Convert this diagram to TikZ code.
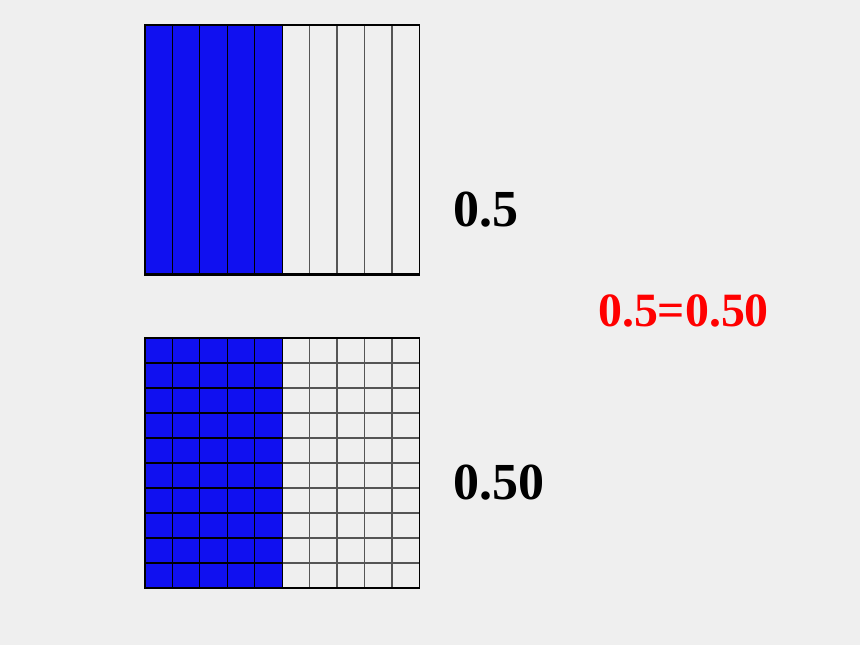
\documentclass[tikz,border=0pt]{standalone}
\usepackage{fontspec}
\setmainfont{Liberation Serif}
\definecolor{bg}{HTML}{EFEFEF}
\definecolor{cellblue}{HTML}{1010F0}
\definecolor{gridgray}{HTML}{555555}
\begin{document}
\begin{tikzpicture}[x=1pt,y=-1pt,
  numlabel/.style={anchor=base west,inner sep=0pt,font=\bfseries\fontsize{52}{52}\selectfont},
  eqlabel/.style={anchor=base west,inner sep=0pt,text=red,font=\bfseries\fontsize{47.8}{47.8}\selectfont},
  bluegrid/.style={draw=black,line width=1.2pt},
  graygrid/.style={draw=gridgray,line width=1.2pt},
  frame/.style={draw=black,line width=1.8pt}]
\fill[bg] (0,0) rectangle (860,645);
\useasboundingbox (0,0) rectangle (860,645);
% top square (tenths)
\fill[cellblue] (145,25) rectangle (282.2,275);
\foreach \i in {6,...,9} \draw[graygrid] ({145+27.44*\i},25) -- ({145+27.44*\i},275);
\foreach \i in {1,...,5} \draw[bluegrid] ({145+27.44*\i},25) -- ({145+27.44*\i},275);
\draw[frame] (145,25) rectangle (419.4,275);
\draw[black,line width=2.6pt] (145,274.5) -- (419.4,274.5);
% bottom square (hundredths)
\fill[cellblue] (145,338) rectangle (282.2,588);
\foreach \j in {1,...,9} \draw[graygrid] (282.2,{338+25*\j}) -- (419.4,{338+25*\j});
\foreach \i in {6,...,9} \draw[graygrid] ({145+27.44*\i},338) -- ({145+27.44*\i},588);
\foreach \j in {1,...,9} \draw[bluegrid] (145,{338+25*\j}) -- (282.2,{338+25*\j});
\foreach \i in {1,...,5} \draw[bluegrid] ({145+27.44*\i},338) -- ({145+27.44*\i},588);
\draw[frame] (145,338) rectangle (419.4,588);
% labels
\node[numlabel] (a) at (453,226.5) {0.5};
\node[numlabel] (b) at (453,499.5) {0.50};
\node[eqlabel] (c) at (598,326) {0.5=0.50};
\end{tikzpicture}
\end{document}
